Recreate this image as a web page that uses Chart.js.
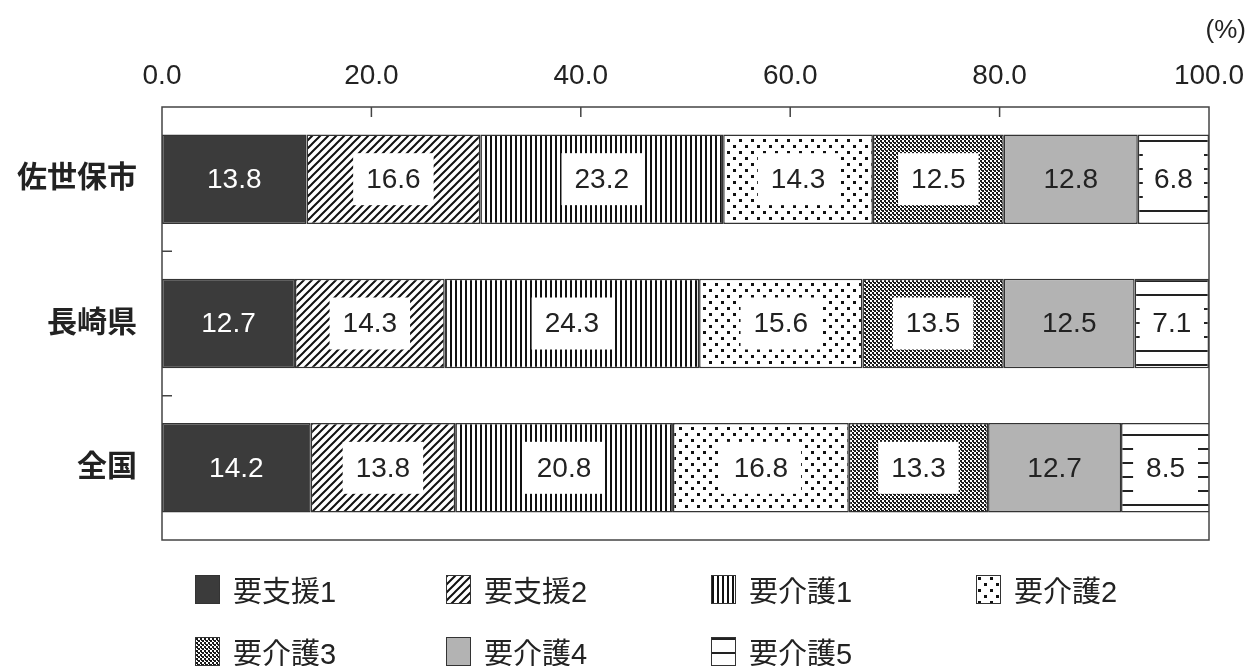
<!DOCTYPE html>
<html>
<head>
<meta charset="utf-8">
<script src="https://cdn.jsdelivr.net/npm/chart.js@4/dist/chart.umd.min.js"></script>
<style>
  html, body { margin:0; padding:0; background:#fff; overflow:hidden; }
  #wrap { position:relative; width:1254px; height:666px; }
  #legend {
    position:absolute; left:195px; top:569px;
    display:grid; grid-template-columns:251px 265px 265px 265px;
    row-gap:22px;
    font-family:"Liberation Sans","Noto Sans CJK JP",sans-serif;
    font-size:29px; color:#222;
  }
  .item { display:flex; align-items:center; height:40px; }
  .item canvas { border:1.5px solid #333; margin-right:13px; box-sizing:border-box; }
</style>
</head>
<body>
<div id="wrap">
  <canvas id="grafico"></canvas>
  <div id="legend"></div>
</div>
<script>
const categories=["佐世保市","長崎県","全国"];
const seriesNames=["要支援1","要支援2","要介護1","要介護2","要介護3","要介護4","要介護5"];

const yoShien1=[13.8,12.7,14.2];
const yoShien2=[16.6,14.3,13.8];
const yoKaigo1=[23.2,24.3,20.8];
const yoKaigo2=[14.3,15.6,16.8];
const yoKaigo3=[12.5,13.5,13.3];
const yoKaigo4=[12.8,12.5,12.7];
const yoKaigo5=[6.8,7.1,8.5];

const xTickValues=[0,20,40,60,80,100];

const seriesValues=[yoShien1,yoShien2,yoKaigo1,yoKaigo2,yoKaigo3,yoKaigo4,yoKaigo5];

//patrones de relleno
function patron(tipo){
  const c=document.createElement("canvas");
  const g=c.getContext("2d");
  if(tipo==="solidoOscuro"){
    c.width=4;c.height=4;g.fillStyle="#3b3b3b";g.fillRect(0,0,4,4);
  }else if(tipo==="gris"){
    c.width=4;c.height=4;g.fillStyle="#b3b3b3";g.fillRect(0,0,4,4);
  }else if(tipo==="diagonal"){
    c.width=8;c.height=8;g.fillStyle="#fff";g.fillRect(0,0,8,8);
    g.strokeStyle="#111";g.lineWidth=2;
    g.beginPath();
    g.moveTo(-2,10);g.lineTo(10,-2);
    g.moveTo(-6,6);g.lineTo(6,-6);
    g.moveTo(2,14);g.lineTo(14,2);
    g.stroke();
  }else if(tipo==="vertical"){
    c.width=5;c.height=4;g.fillStyle="#fff";g.fillRect(0,0,5,4);
    g.fillStyle="#111";g.fillRect(0,0,2,4);
  }else if(tipo==="puntos"){
    c.width=12;c.height=12;g.fillStyle="#fff";g.fillRect(0,0,12,12);
    g.fillStyle="#111";g.fillRect(1,1,3,3);g.fillRect(7,7,3,3);
  }else if(tipo==="cuadros"){
    c.width=4;c.height=4;g.fillStyle="#fff";g.fillRect(0,0,4,4);
    g.fillStyle="#1a1a1a";g.fillRect(0,0,2,2);g.fillRect(2,2,2,2);
    g.fillRect(1,2,1,1);
  }else if(tipo==="horizontal"){
    c.width=4;c.height=14;g.fillStyle="#fff";g.fillRect(0,0,4,14);
    g.fillStyle="#222";g.fillRect(0,0,4,2);
  }
  return g.createPattern(c,"repeat");
}

const tiposPatron=["solidoOscuro","diagonal","vertical","puntos","cuadros","gris","horizontal"];
const etiquetaCaja=[false,true,true,true,true,false,true];
const etiquetaColor=["#fff","#222","#222","#222","#222","#222","#222"];

const fuente="'Liberation Sans','Noto Sans CJK JP',sans-serif";

const marcoPlugin={
  id:"marco",
  afterDatasetsDraw(chart){
    const ctx=chart.ctx;
    const a=chart.chartArea;
    const x=chart.scales.x, y=chart.scales.y;
    ctx.save();
    // etiquetas de valores
    ctx.font="28px "+fuente;
    ctx.textAlign="center";
    ctx.textBaseline="middle";
    chart.data.datasets.forEach((ds,di)=>{
      const meta=chart.getDatasetMeta(di);
      meta.data.forEach((bar,i)=>{
        const v=ds.data[i];
        const texto=v.toFixed(1);
        const cx=(bar.x+bar.base)/2;
        const cy=bar.y;
        if(etiquetaCaja[di]){
          const ancho=Math.abs(bar.x-bar.base);
          const w=Math.min(ctx.measureText(texto).width+26,ancho-10);
          const h=52;
          ctx.fillStyle="#fff";
          ctx.fillRect(cx-w/2,cy-h/2,w,h);
        }
        ctx.fillStyle=etiquetaColor[di];
        ctx.fillText(texto,cx,cy+1);
      });
    });
    // marco
    ctx.strokeStyle="#444";
    ctx.lineWidth=1.5;
    ctx.strokeRect(a.left,a.top,a.right-a.left,a.bottom-a.top);
    ctx.beginPath();
    x.ticks.forEach(t=>{
      if(t.value>0&&t.value<100){
        const px=x.getPixelForValue(t.value);
        ctx.moveTo(px,a.top);ctx.lineTo(px,a.top+10);
      }
    });
    for(let i=0;i<categories.length-1;i++){
      const py=(y.getPixelForValue(i)+y.getPixelForValue(i+1))/2;
      ctx.moveTo(a.left,py);ctx.lineTo(a.left+10,py);
    }
    ctx.stroke();
    // unidad
    ctx.fillStyle="#222";
    ctx.font="26px "+fuente;
    ctx.textAlign="right";
    ctx.fillText("(%)",a.right+37,31);
    ctx.restore();
  }
};

const datasets=seriesNames.map((nombre,i)=>({
  label:nombre,
  data:seriesValues[i],
  backgroundColor:patron(tiposPatron[i]),
  borderColor:"#333",
  borderWidth:1.5,
  borderSkipped:false,
  categoryPercentage:1,
  barPercentage:0.62
}));

new Chart("grafico",{
  type:"bar",
  data:{labels:categories,datasets:datasets},
  options:{
    indexAxis:"y",
    responsive:true,
    maintainAspectRatio:false,
    animation:false,
    layout:{padding:{top:0,left:0,right:45,bottom:126}},
    plugins:{legend:{display:false},tooltip:{enabled:false}},
    scales:{
      x:{
        position:"top",
        stacked:true,
        min:0,max:100,
        afterBuildTicks(scale){scale.ticks=xTickValues.map(v=>({value:v}));},
        afterFit(scale){scale.height=107;},
        grid:{display:false},
        border:{display:false},
        ticks:{
          padding:6,
          color:"#222",
          font:{size:28,family:fuente},
          maxRotation:0,
          callback:v=>Number(v).toFixed(1)
        }
      },
      y:{
        stacked:true,
        afterFit(scale){scale.width=162;},
        grid:{display:false},
        border:{display:false},
        ticks:{
          padding:17,
          color:"#222",
          font:{size:30,family:fuente,weight:"bold"}
        }
      }
    }
  },
  plugins:[marcoPlugin]
});

// leyenda
const leyenda=document.getElementById("legend");
seriesNames.forEach((nombre,i)=>{
  const item=document.createElement("div");
  item.className="item";
  const sw=document.createElement("canvas");
  sw.width=23;sw.height=27;
  const g=sw.getContext("2d");
  g.fillStyle=patron(tiposPatron[i]);
  g.fillRect(0,0,23,27);
  item.appendChild(sw);
  const t=document.createElement("span");
  t.textContent=nombre;
  item.appendChild(t);
  leyenda.appendChild(item);
});
</script>
</body>
</html>
